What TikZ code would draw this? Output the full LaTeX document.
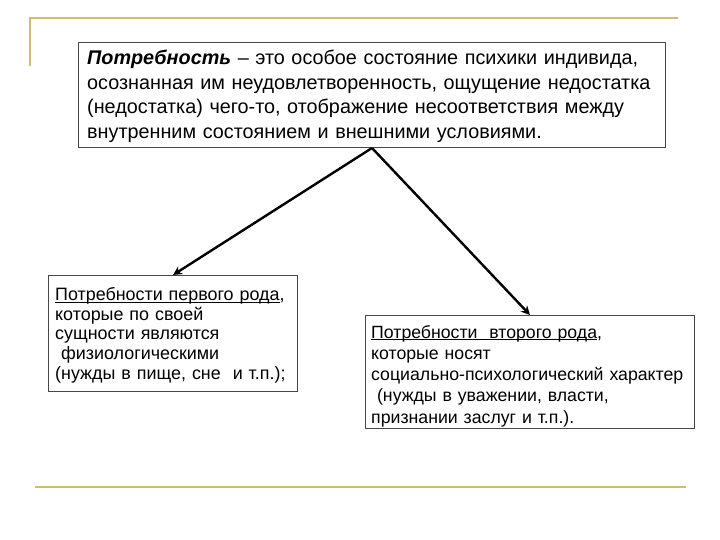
\documentclass[tikz,border=0pt]{standalone}
\usepackage{fontspec}
\setmainfont{Liberation Sans}
\usetikzlibrary{arrows.meta}
\definecolor{gold}{RGB}{208,188,112}
\definecolor{boxline}{RGB}{70,70,70}
\newcommand{\myul}[1]{\vphantom{#1}\underline{\smash{#1}}}
\tikzset{
  goldline/.style={draw=gold,line width=2.6pt},
  frame/.style={draw=boxline,line width=1pt,anchor=north west,inner sep=0pt},
  txt/.style={anchor=north west,align=left,inner sep=0pt},
  conn/.style={draw=black,line width=2.4pt,-{Stealth[length=9pt,width=9pt]}}
}
\begin{document}
\begin{tikzpicture}[x=1pt,y=-1pt]
\useasboundingbox (0,0) rectangle (720,540);
\coordinate (g1) at (30,66);
\coordinate (g2) at (30,18);
\coordinate (g3) at (678,18);
\coordinate (g4) at (35,487);
\coordinate (g5) at (686,487);
\draw[goldline] (g1) -- (g2) -- (g3);
\draw[goldline] (g4) -- (g5);
\node[frame,minimum width=587pt,minimum height=105pt] (main) at (78,42) {};
\node[frame,minimum width=249pt,minimum height=116pt] (left) at (48,275) {};
\node[frame,minimum width=329pt,minimum height=113pt] (right) at (365,315) {};
\node[txt,font=\fontsize{19.8}{24.8}\selectfont,text width=575pt] (maintext) at (87,49.5)
 {\textbf{\textit{Потребность}} – это особое состояние психики индивида,\\
 осознанная им неудовлетворенность, ощущение недостатка\\
 (недостатка) чего-то, отображение несоответствия между\\
 внутренним состоянием и внешними условиями.};
\node[txt,font=\fontsize{17.9}{19.75}\selectfont,text width=240pt] (lefttext) at (55,287)
 {\myul{Потребности первого рода},\\
 которые по своей\\
 сущности являются\\
 \ физиологическими\\
 (нужды в пище, сне\ \ и т.п.);};
\node[txt,font=\fontsize{17.7}{21.25}\selectfont,text width=322pt] (righttext) at (371,325)
 {\myul{Потребности\ \ второго рода},\\
 которые носят\\
 социально-психологический характер\\
 \ (нужды в уважении, власти,\\
 признании заслуг и т.п.).};
\draw[conn] (main.south) -- (left.north);
\draw[conn] (main.south) -- (right.north);
\end{tikzpicture}
\end{document}
